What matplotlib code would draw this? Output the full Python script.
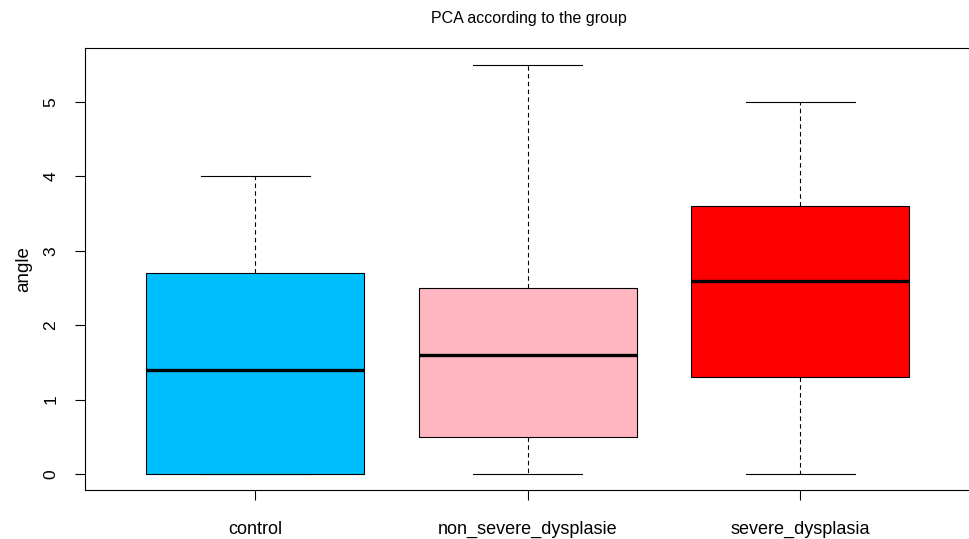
import matplotlib.pyplot as plt

plt.rcParams['font.family'] = ['Liberation Sans', 'DejaVu Sans']

groups = ["control", "non_severe_dysplasie", "severe_dysplasia"]
colors = ["#00BFFF", "#FFB6C1", "#FF0000"]
whislo = [0.0, 0.0, 0.0]
q1 = [0.0, 0.5, 1.3]
med = [1.4, 1.6, 2.6]
q3 = [2.7, 2.5, 3.6]
whishi = [4.0, 5.5, 5.0]

stats = [
    dict(label=g, whislo=lo, q1=a, med=m, q3=b, whishi=hi, fliers=[])
    for g, lo, a, m, b, hi in zip(groups, whislo, q1, med, q3, whishi)
]

fig = plt.figure(figsize=(9.69, 5.39), dpi=100)
ax = fig.add_axes([85 / 969, 49 / 539, 887 / 969, 442 / 539])

bp = ax.bxp(
    stats,
    positions=[1, 2, 3],
    widths=0.8,
    patch_artist=True,
    showfliers=False,
    boxprops=dict(linewidth=0.8, edgecolor="black"),
    medianprops=dict(color="black", linewidth=2.4),
    whiskerprops=dict(linestyle=(0, (4, 3)), linewidth=0.8, color="black"),
    capprops=dict(linewidth=0.8, color="black"),
    capwidths=0.4,
)
for patch, c in zip(bp["boxes"], colors):
    patch.set_facecolor(c)

ax.set_xlim(0.376, 3.63)
ax.set_ylim(-0.215, 5.726)
ax.set_yticks(range(6))
ax.set_yticklabels([str(i) for i in range(6)], rotation=90, va="center", fontsize=12.5)
ax.set_xticks([1, 2, 3])
ax.set_xticklabels(groups, fontsize=13)
ax.tick_params(axis="x", length=7, width=0.8, pad=15)
ax.tick_params(axis="y", length=7, width=0.8, pad=12)
for s in ax.spines.values():
    s.set_linewidth(0.8)

ax.set_ylabel("angle", fontsize=13.5, labelpad=8)
ax.set_title("PCA according to the group", fontsize=11.5, pad=18)

fig.savefig("out.png", dpi=100)
